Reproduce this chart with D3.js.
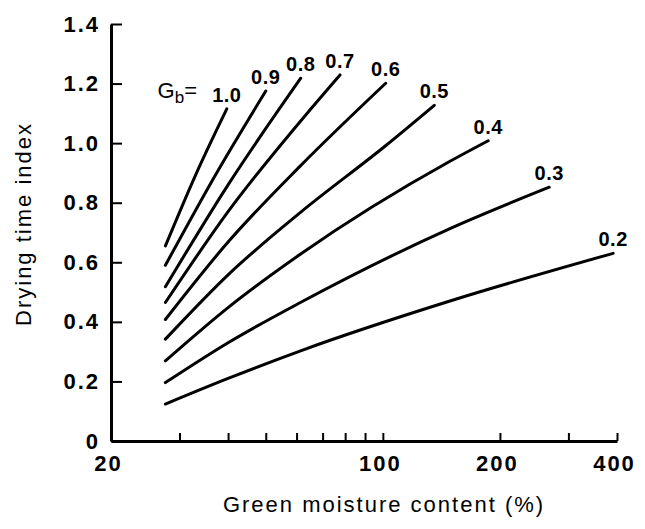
<!DOCTYPE html>
<html>
<head>
<meta charset="utf-8">
<script src="https://cdn.jsdelivr.net/npm/d3@7"></script>
<style>
  body { margin: 0; background: #fff; }
  text { font-family: "Liberation Sans", Arial, sans-serif; fill: #000; }
</style>
</head>
<body>
<script>
// DATA
const gb = [1.0, 0.9, 0.8, 0.7, 0.6, 0.5, 0.4, 0.3, 0.2];
const gbLabels = ['1.0', '0.9', '0.8', '0.7', '0.6', '0.5', '0.4', '0.3', '0.2'];

// green moisture content (%) along each curve
const moisture = [
  [27.6, 33, 39.7],
  [27.6, 37, 50],
  [27.6, 40, 61.5],
  [27.6, 40, 65, 77.6],
  [27.6, 40, 61.2, 101.7],
  [27.6, 40, 61.2, 102, 135.6],
  [27.6, 40, 61.2, 148.8, 186.6],
  [27.6, 40, 61.2, 148.8, 267.8],
  [27.6, 40, 61.2, 148.8, 391],
];

// drying time index along each curve
const dryingIndex = [
  [0.655, 0.893, 1.115],
  [0.59, 0.89, 1.175],
  [0.518, 0.86, 1.218],
  [0.465, 0.77, 1.112, 1.229],
  [0.408, 0.668, 0.922, 1.201],
  [0.342, 0.558, 0.766, 0.993, 1.127],
  [0.269, 0.448, 0.626, 0.939, 1.008],
  [0.196, 0.33, 0.464, 0.713, 0.852],
  [0.124, 0.21, 0.302, 0.47, 0.63],
];

const xTicks = [20, 30, 40, 50, 60, 70, 80, 90, 100, 200, 300, 400];
const xTickLabels = { 20: '20', 100: '100', 200: '200', 400: '400' };
const yTicks = [0, 0.2, 0.4, 0.6, 0.8, 1.0, 1.2, 1.4];

// SCALES
const x = d3.scaleLog().domain([20, 400]).range([111, 617]);
const y = d3.scaleLinear().domain([0, 1.4]).range([441, 24]);

const svg = d3
  .select('body')
  .append('svg')
  .attr('width', 645)
  .attr('height', 529);

// AXES
const xAxis = svg
  .append('g')
  .attr('transform', `translate(0, ${y(0)})`)
  .call(
    d3
      .axisBottom(x)
      .tickValues(xTicks)
      .tickFormat((d) => xTickLabels[d] || '')
      .tickSizeInner(-8)
      .tickSizeOuter(0)
      .tickPadding(14)
  );

const yAxis = svg
  .append('g')
  .attr('transform', `translate(${x(20)}, 0)`)
  .call(
    d3
      .axisLeft(y)
      .tickValues(yTicks)
      .tickFormat((d) => (d === 0 ? '0' : d3.format('.1f')(d)))
      .tickSizeInner(-11)
      .tickSizeOuter(0)
      .tickPadding(11)
  );

for (const ax of [xAxis, yAxis]) {
  ax.select('.domain').attr('stroke', '#000').attr('stroke-width', 3);
  ax.selectAll('.tick line').attr('stroke', '#000').attr('stroke-width', 2);
  ax.selectAll('.tick text')
    .attr('font-family', '"Liberation Sans", Arial, sans-serif')
    .attr('font-size', 22)
    .attr('font-weight', 'bold')
    .attr('letter-spacing', 2)
    .attr('fill', '#000');
}
xAxis.selectAll('.tick text').attr('dx', -3);

// CURVES
const line = d3
  .line()
  .x((d) => x(d[0]))
  .y((d) => y(d[1]))
  .curve(d3.curveMonotoneX);

gb.forEach((g, i) => {
  const pts = moisture[i].map((m, j) => [m, dryingIndex[i][j]]);
  svg
    .append('path')
    .attr('d', line(pts))
    .attr('fill', 'none')
    .attr('stroke', '#000')
    .attr('stroke-width', 3)
    .attr('stroke-linecap', 'round');

  const last = pts[pts.length - 1];
  svg
    .append('text')
    .attr('x', x(last[0]))
    .attr('y', y(last[1]) - 7)
    .attr('text-anchor', 'middle')
    .attr('font-size', 20)
    .attr('font-weight', 'bold')
    .attr('letter-spacing', 0.5)
    .text(gbLabels[i]);
});

// Gb= label
const gbText = svg
  .append('text')
  .attr('x', 197)
  .attr('y', 98)
  .attr('text-anchor', 'end')
  .attr('font-size', 22);
gbText.append('tspan').text('G');
gbText.append('tspan').attr('font-size', 17).attr('dy', 5).text('b');
gbText.append('tspan').attr('dy', -5).text('=');

// TITLES
svg
  .append('text')
  .attr('x', 384)
  .attr('y', 512)
  .attr('text-anchor', 'middle')
  .attr('font-size', 22)
  .attr('letter-spacing', 2)
  .text('Green moisture content (%)');

svg
  .append('text')
  .attr('transform', 'translate(31, 224) rotate(-90)')
  .attr('text-anchor', 'middle')
  .attr('font-size', 22)
  .attr('letter-spacing', 2)
  .text('Drying time index');
</script>
</body>
</html>
